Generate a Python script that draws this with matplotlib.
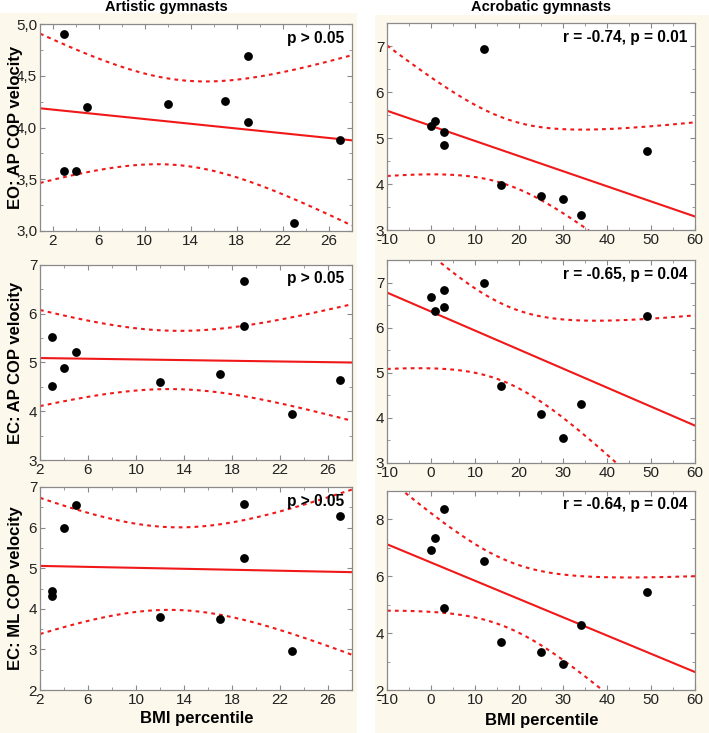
import numpy as np
import matplotlib
matplotlib.use("Agg")
import matplotlib.pyplot as plt
from matplotlib.patches import Rectangle
from matplotlib.ticker import MultipleLocator, FuncFormatter, FixedLocator

plt.rcParams['font.family'] = ['Liberation Sans', 'DejaVu Sans']

# ---------------- data ----------------
art_eo_ap_x = [3, 3, 4, 5, 12, 17, 19, 19, 23, 27]
art_eo_ap_y = [4.90, 3.58, 3.58, 4.20, 4.23, 4.26, 4.69, 4.05, 3.08, 3.88]
art_ec_ap_x = [3, 3, 4, 5, 12, 17, 19, 19, 23, 27]
art_ec_ap_y = [5.52, 4.51, 4.88, 5.22, 4.61, 4.76, 6.68, 5.75, 3.94, 4.65]
art_ec_ml_x = [3, 3, 4, 5, 12, 17, 19, 19, 23, 27]
art_ec_ml_y = [4.43, 4.32, 6.00, 6.55, 3.80, 3.74, 6.57, 5.26, 2.95, 6.28]

acr_eo_ap_x = [0, 1, 3, 3, 12, 16, 25, 30, 34, 49]
acr_eo_ap_y = [5.27, 5.36, 5.12, 4.85, 6.93, 3.97, 3.74, 3.68, 3.32, 4.72]
acr_ec_ap_x = [0, 1, 3, 3, 12, 16, 25, 30, 34, 49]
acr_ec_ap_y = [6.67, 6.38, 6.84, 6.46, 7.00, 4.71, 4.09, 3.56, 4.31, 6.26]
acr_ec_ml_x = [0, 1, 3, 3, 12, 16, 25, 30, 34, 49]
acr_ec_ml_y = [6.92, 7.36, 8.35, 4.88, 6.55, 3.68, 3.34, 2.93, 4.27, 5.46]

col_titles = ["Artistic gymnasts", "Acrobatic gymnasts"]
row_labels = ["EO: AP COP velocity", "EC: AP COP velocity", "EC: ML COP velocity"]
x_label = "BMI percentile"
annotations = [["p > 0.05", "r = -0.74, p = 0.01"],
               ["p > 0.05", "r = -0.65, p = 0.04"],
               ["p > 0.05", "r = -0.64, p = 0.04"]]
art_xticks = [2, 6, 10, 14, 18, 22, 26]

# two-sided 95% t critical values by degrees of freedom
T975 = {7: 2.365, 8: 2.306, 9: 2.262, 10: 2.228, 11: 2.201}

# ---------------- layout ----------------
W, H = 709, 733
fig = plt.figure(figsize=(W / 100, H / 100), dpi=100)
fig.patch.set_facecolor('white')

cream = '#fdf8ec'
fig.patches.append(Rectangle((0, 0), 357 / W, 1 - 13 / H, transform=fig.transFigure,
                             facecolor=cream, edgecolor='none', zorder=-10))
fig.patches.append(Rectangle((375 / W, 0), (W - 375) / W, 1 - 15 / H, transform=fig.transFigure,
                             facecolor=cream, edgecolor='none', zorder=-10))

def add_ax(x0, y0, x1, y1):
    ax = fig.add_axes([x0 / W, 1 - y1 / H, (x1 - x0) / W, (y1 - y0) / H])
    ax.set_zorder(1)
    return ax

boxes = [
    [(40, 24, 352, 231), (387, 23, 695, 230)],
    [(40, 265, 352, 460), (387, 260, 695, 463)],
    [(40, 487, 352, 690), (387, 491, 695, 690)],
]

data = [
    [(art_eo_ap_x, art_eo_ap_y), (acr_eo_ap_x, acr_eo_ap_y)],
    [(art_ec_ap_x, art_ec_ap_y), (acr_ec_ap_x, acr_ec_ap_y)],
    [(art_ec_ml_x, art_ec_ml_y), (acr_ec_ml_x, acr_ec_ml_y)],
]

ylims = [[(3.0, 5.0), (3.0, 7.5)], [(3, 7), (3, 7.5)], [(2, 7), (2, 9)]]
xlims = [[(0.9, 28.0), (-10, 60)], [(2, 28), (-10, 60)], [(2, 28), (-10, 60)]]
ymajor = [[0.5, 1], [1, 1], [1, 2]]
yminor = [[0.25, 0.5], [0.5, 0.5], [0.5, 1]]
xmajor = [4, 10]
xminor = [2, 5]

red = '#f01818'
spine_c = '#8a8a8a'

for r in range(3):
    for c in range(2):
        ax = add_ax(*boxes[r][c])
        ax.set_facecolor('white')
        x = np.asarray(data[r][c][0], float)
        y = np.asarray(data[r][c][1], float)
        xl = xlims[r][c]
        ax.set_xlim(*xl)
        ax.set_ylim(*ylims[r][c])

        # regression with 95% confidence band
        n = len(x)
        mx, my = x.mean(), y.mean()
        sxx = ((x - mx) ** 2).sum()
        b = ((x - mx) * (y - my)).sum() / sxx
        a = my - b * mx
        res = y - (a + b * x)
        s = np.sqrt((res ** 2).sum() / (n - 2))
        t = T975[n - 2]
        xs = np.linspace(xl[0], xl[1], 300)
        yh = a + b * xs
        se = s * np.sqrt(1 / n + (xs - mx) ** 2 / sxx)
        ax.plot(xs, yh, color=red, lw=1.5, zorder=2)
        ax.plot(xs, yh + t * se, color=red, lw=1.5, dashes=(1.8, 2.0), zorder=2)
        ax.plot(xs, yh - t * se, color=red, lw=1.5, dashes=(1.8, 2.0), zorder=2)

        ax.scatter(x, y, s=40, color='black', zorder=3, linewidths=0)

        if c == 0:
            ax.xaxis.set_major_locator(FixedLocator(art_xticks))
        else:
            ax.xaxis.set_major_locator(MultipleLocator(xmajor[c]))
        ax.xaxis.set_minor_locator(MultipleLocator(xminor[c]))
        ax.yaxis.set_major_locator(MultipleLocator(ymajor[r][c]))
        ax.yaxis.set_minor_locator(MultipleLocator(yminor[r][c]))
        if r == 0 and c == 0:
            ax.yaxis.set_major_formatter(FuncFormatter(lambda v, p: f"{v:.1f}".replace('.', ',')))
        else:
            ax.yaxis.set_major_formatter(FuncFormatter(lambda v, p: f"{v:g}"))
        ax.xaxis.set_major_formatter(FuncFormatter(lambda v, p: f"{v:g}"))

        ax.tick_params(which='both', direction='in', top=True, right=True,
                       color=spine_c, labelsize=11, labelcolor='#222222', pad=2)
        ax.tick_params(which='major', length=3.5, width=0.8)
        ax.tick_params(which='minor', length=2, width=0.6)
        for sp in ax.spines.values():
            sp.set_color(spine_c)
            sp.set_linewidth(0.9)

        ax.text(0.975, 0.93, annotations[r][c], transform=ax.transAxes,
                ha='right', va='center', fontsize=11.2, fontweight='bold', color='black', zorder=4)

        if c == 0:
            fig.text(16 / W, 1 - ((boxes[r][c][1] + boxes[r][c][3]) / 2) / H, row_labels[r],
                     rotation=90, ha='center', va='center', fontsize=12, fontweight='bold')

fig.text(166 / W, 1 - 7 / H, col_titles[0], ha='center', va='center', fontsize=10.5, fontweight='bold')
fig.text(541 / W, 1 - 7 / H, col_titles[1], ha='center', va='center', fontsize=10.5, fontweight='bold')
fig.text(197 / W, 1 - 719 / H, x_label, ha='center', va='center', fontsize=12, fontweight='bold')
fig.text(542 / W, 1 - 720 / H, x_label, ha='center', va='center', fontsize=12, fontweight='bold')

fig.savefig("out.png", dpi=100, facecolor=fig.get_facecolor())
